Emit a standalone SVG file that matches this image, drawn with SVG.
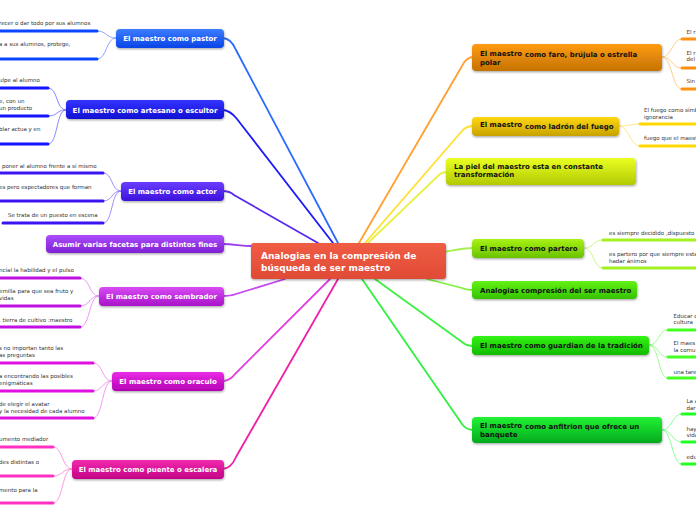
<svg xmlns="http://www.w3.org/2000/svg" width="696" height="520" viewBox="0 0 696 520">
<defs>
<filter id="sh" x="-10%" y="-20%" width="120%" height="160%"><feDropShadow dx="0.5" dy="1.2" stdDeviation="0.9" flood-color="#000" flood-opacity="0.35"/></filter>
<linearGradient id="gC" x1="0" y1="0" x2="0" y2="1"><stop offset="0" stop-color="#ef5c44"/><stop offset="1" stop-color="#e04b36"/></linearGradient>
<linearGradient id="g1" x1="0" y1="0" x2="0" y2="1"><stop offset="0" stop-color="#3b7dff"/><stop offset="1" stop-color="#0b44e6"/></linearGradient>
<linearGradient id="g2" x1="0" y1="0" x2="0" y2="1"><stop offset="0" stop-color="#3434ff"/><stop offset="1" stop-color="#1010d2"/></linearGradient>
<linearGradient id="g3" x1="0" y1="0" x2="0" y2="1"><stop offset="0" stop-color="#6a3cff"/><stop offset="1" stop-color="#3c12dc"/></linearGradient>
<linearGradient id="g4" x1="0" y1="0" x2="0" y2="1"><stop offset="0" stop-color="#ac4cfa"/><stop offset="1" stop-color="#7e22d4"/></linearGradient>
<linearGradient id="g5" x1="0" y1="0" x2="0" y2="1"><stop offset="0" stop-color="#d84cf4"/><stop offset="1" stop-color="#a812c8"/></linearGradient>
<linearGradient id="g6" x1="0" y1="0" x2="0" y2="1"><stop offset="0" stop-color="#ea2ae6"/><stop offset="1" stop-color="#b402b4"/></linearGradient>
<linearGradient id="g7" x1="0" y1="0" x2="0" y2="1"><stop offset="0" stop-color="#f22aae"/><stop offset="1" stop-color="#c20286"/></linearGradient>
<linearGradient id="r1" x1="0" y1="0" x2="0" y2="1"><stop offset="0" stop-color="#ff9c12"/><stop offset="1" stop-color="#c47202"/></linearGradient>
<linearGradient id="r2" x1="0" y1="0" x2="0" y2="1"><stop offset="0" stop-color="#ffd810"/><stop offset="1" stop-color="#c8a202"/></linearGradient>
<linearGradient id="r3" x1="0" y1="0" x2="0" y2="1"><stop offset="0" stop-color="#eaff22"/><stop offset="1" stop-color="#b2ca02"/></linearGradient>
<linearGradient id="r4" x1="0" y1="0" x2="0" y2="1"><stop offset="0" stop-color="#a8f214"/><stop offset="1" stop-color="#6ac202"/></linearGradient>
<linearGradient id="r5" x1="0" y1="0" x2="0" y2="1"><stop offset="0" stop-color="#64f214"/><stop offset="1" stop-color="#34c202"/></linearGradient>
<linearGradient id="r6" x1="0" y1="0" x2="0" y2="1"><stop offset="0" stop-color="#34f414"/><stop offset="1" stop-color="#12ba02"/></linearGradient>
<linearGradient id="r7" x1="0" y1="0" x2="0" y2="1"><stop offset="0" stop-color="#22f234"/><stop offset="1" stop-color="#02aa1e"/></linearGradient>
</defs>
<style>
.nt{font-family:"DejaVu Sans","Liberation Sans",sans-serif;font-weight:bold;font-size:7px}
.w{fill:#fff;text-anchor:middle}
.k{fill:#111}
.s{font-family:"DejaVu Sans","Liberation Sans",sans-serif;font-size:5.5px;fill:#333}
.mc{fill:none;stroke-width:1.8;stroke-linecap:round}
.sc{fill:none;stroke-width:0.8}
.ul{stroke-width:3;stroke-linecap:round}
</style>
<rect width="696" height="520" fill="#fff"/>

<g id="connectors">
<path class="mc" stroke="#2a6bff" d="M338,243 L236,50 Q231,38 222,38"/>
<path class="mc" stroke="#1c1cf5" d="M333,243 L237,119 Q230,110 222,110"/>
<path class="mc" stroke="#5a2af0" d="M318,243 L234,195 Q230,191 222,191"/>
<path class="mc" stroke="#9a3cf0" d="M252,246 C240,246 235,244 222,244"/>
<path class="mc" stroke="#c648f2" d="M285,279 L236,294 Q231,296 222,296"/>
<path class="mc" stroke="#e040e0" d="M330,279 L235,374 Q230,381 222,381"/>
<path class="mc" stroke="#f020a8" d="M338,279 L236,457 Q231,469 222,469"/>
<path class="mc" stroke="#ffa030" d="M359,243 L462,66 Q466,57 474,57"/>
<path class="mc" stroke="#ffe030" d="M365,243 L462,131 Q466,126 474,126"/>
<path class="mc" stroke="#e8f040" d="M368,243 L438,176 Q441,172 448,172"/>
<path class="mc" stroke="#a8f050" d="M445,252 C455,250 462,248 474,248"/>
<path class="mc" stroke="#80f040" d="M427,279 L462,288 Q466,290 474,290"/>
<path class="mc" stroke="#40f040" d="M375,279 L462,342 Q466,346 474,346"/>
<path class="mc" stroke="#30f040" d="M362,279 L462,424 Q466,430 474,430"/>

<g stroke="#7090ff" class="sc">
<path d="M116,38 C106,38 107,31 97,31"/><path d="M116,38 C106,38 107,59 97,59"/>
</g>
<g stroke="#6a6aff" class="sc">
<path d="M66,110 C56,110 58,88 48,88"/><path d="M66,110 C56,110 58,116 48,116"/><path d="M66,110 C56,110 58,144 48,144"/>
</g>
<g stroke="#8a70ff" class="sc">
<path d="M121,191 C111,191 113,173 103,173"/><path d="M121,191 C111,191 113,201 103,201"/><path d="M121,191 C111,191 113,223 103,223"/>
</g>
<g stroke="#e080f0" class="sc">
<path d="M99,296 C89,296 90,278 80,278"/><path d="M99,296 C89,296 90,306 80,306"/><path d="M99,296 C89,296 90,327 80,327"/>
</g>
<g stroke="#f080f0" class="sc">
<path d="M112,381 C102,381 103,363 93,363"/><path d="M112,381 C102,381 103,391 93,391"/><path d="M112,381 C102,381 103,418 93,418"/>
</g>
<g stroke="#ff80d0" class="sc">
<path d="M72,469 C62,469 63,447 53,447"/><path d="M72,469 C62,469 63,476 53,476"/><path d="M72,469 C62,469 63,503 53,503"/>
</g>
<g stroke="#ffc070" class="sc">
<path d="M662,57 C672,57 672,39 682,39"/><path d="M662,57 C672,57 672,68 682,68"/><path d="M662,57 C672,57 672,89 682,89"/>
</g>
<g stroke="#ffe070" class="sc">
<path d="M619,126 C629,126 630,124 640,124"/><path d="M619,126 C629,126 630,146 640,146"/>
</g>
<g stroke="#c0f070" class="sc">
<path d="M584,248 C594,248 593,240 603,240"/><path d="M584,248 C594,248 593,268 603,268"/>
</g>
<g stroke="#80ff70" class="sc">
<path d="M649,345 C659,345 658,330 668,330"/><path d="M649,345 C659,345 658,357 668,357"/><path d="M649,345 C659,345 658,378 668,378"/>
</g>
<g stroke="#70ff80" class="sc">
<path d="M662,430 C672,430 672,414 682,414"/><path d="M662,430 C672,430 672,442 682,442"/><path d="M662,430 C672,430 672,464 682,464"/>
</g>
</g>

<g id="center">
<rect x="251" y="243" width="195" height="36" rx="3" fill="url(#gC)" filter="url(#sh)"/>
<text x="261" y="259" font-family="DejaVu Sans, sans-serif" font-weight="bold" font-size="9" fill="#fff">Analogias en la compresión de</text>
<text x="261" y="270.5" font-family="DejaVu Sans, sans-serif" font-weight="bold" font-size="9" fill="#fff">búsqueda de ser maestro</text>
</g>

<g id="pastor">
<rect x="116" y="29" width="108" height="19" rx="4" fill="url(#g1)" filter="url(#sh)"/>
<text class="nt w" x="170" y="41">El maestro como pastor</text>
<line class="ul" stroke="#0a46ff" x1="-2" y1="31" x2="97" y2="31"/>
<line class="ul" stroke="#0a46ff" x1="-2" y1="59" x2="97" y2="59"/>
<text class="s" x="-1" y="25">recer o dar todo por sus alumnos</text>
<text class="s" x="-1" y="46">a a sus alumnos, protege,</text>
</g>

<g id="artesano">
<rect x="66" y="100" width="158" height="19" rx="4" fill="url(#g2)" filter="url(#sh)"/>
<text class="nt w" x="145" y="112.5">El maestro como artesano o escultor</text>
<line class="ul" stroke="#1414ff" x1="-2" y1="88" x2="48" y2="88"/>
<line class="ul" stroke="#1414ff" x1="-2" y1="116" x2="48" y2="116"/>
<line class="ul" stroke="#1414ff" x1="-2" y1="144" x2="48" y2="144"/>
<text class="s" x="-1" y="82">ulpe al alumno</text>
<text class="s" x="-1" y="103">e, con un</text>
<text class="s" x="-1" y="110">un producto</text>
<text class="s" x="-1" y="131">blar actua y en</text>
</g>

<g id="actor">
<rect x="121" y="182" width="103" height="19" rx="4" fill="url(#g3)" filter="url(#sh)"/>
<text class="nt w" x="172.5" y="194">El maestro como actor</text>
<line class="ul" stroke="#3c14f2" x1="-2" y1="173" x2="103" y2="173"/>
<line class="ul" stroke="#3c14f2" x1="-2" y1="201" x2="103" y2="201"/>
<line class="ul" stroke="#3c14f2" x1="3" y1="223" x2="103" y2="223"/>
<text class="s" x="2" y="167.5">poner al alumno frente a si mismo</text>
<text class="s" x="-1" y="189">es  pero espectadores que forman</text>
<text class="s" x="8" y="217">Se trata de un puesto en escena</text>
</g>

<g id="facetas">
<rect x="46" y="235" width="178" height="18" rx="4" fill="url(#g4)" filter="url(#sh)"/>
<text class="nt w" x="135" y="246.5">Asumir varias facetas para distintos fines</text>
</g>

<g id="sembrador">
<rect x="99" y="287" width="125" height="19" rx="4" fill="url(#g5)" filter="url(#sh)"/>
<text class="nt w" x="161.5" y="299">El maestro como sembrador</text>
<line class="ul" stroke="#c010e2" x1="-2" y1="278" x2="80" y2="278"/>
<line class="ul" stroke="#c010e2" x1="-2" y1="306" x2="80" y2="306"/>
<line class="ul" stroke="#c010e2" x1="-2" y1="327" x2="80" y2="327"/>
<text class="s" x="-1" y="272">ncial la habilidad y el pulso</text>
<text class="s" x="-1" y="293">emilla para que sea fruto y</text>
<text class="s" x="-1" y="299.5">vidas</text>
<text class="s" x="-1" y="322">.  tierra de cultivo :maestro</text>
</g>

<g id="oraculo">
<rect x="112" y="372" width="112" height="19" rx="4" fill="url(#g6)" filter="url(#sh)"/>
<text class="nt w" x="168" y="384">El maestro como oraculo</text>
<line class="ul" stroke="#e010e0" x1="-2" y1="363" x2="93" y2="363"/>
<line class="ul" stroke="#e010e0" x1="-2" y1="391" x2="93" y2="391"/>
<line class="ul" stroke="#e010e0" x1="-2" y1="418" x2="93" y2="418"/>
<text class="s" x="-1" y="350">s no importan tanto las</text>
<text class="s" x="-1" y="356.5">as preguntas</text>
<text class="s" x="-1" y="378">a encontrando las posibles</text>
<text class="s" x="-1" y="384.5">enigmáticas</text>
<text class="s" x="-1" y="406">de elegir el avatar</text>
<text class="s" x="-1" y="412.5">y la necesidad de cada alumno</text>
</g>

<g id="puente">
<rect x="72" y="460" width="152" height="19" rx="4" fill="url(#g7)" filter="url(#sh)"/>
<text class="nt w" x="148" y="472">El maestro como puente o escalera</text>
<line class="ul" stroke="#ff30c4" x1="-2" y1="447" x2="53" y2="447"/>
<line class="ul" stroke="#ff30c4" x1="-2" y1="476" x2="53" y2="476"/>
<line class="ul" stroke="#ff30c4" x1="-2" y1="503" x2="53" y2="503"/>
<text class="s" x="-1" y="441">umento mediador</text>
<text class="s" x="-1" y="463.5">des distintas o</text>
<text class="s" x="-1" y="492">mento para la</text>
</g>

<g id="faro">
<rect x="472" y="44" width="190" height="27" rx="4" fill="url(#r1)" filter="url(#sh)"/>
<text class="nt k" x="480" y="55.5">El maestro</text>
<text class="nt k" x="525" y="57">como faro, brújula  o estrella</text>
<text class="nt k" x="480" y="64.5">polar</text>
<line class="ul" stroke="#ff9010" x1="682" y1="39" x2="698" y2="39"/>
<line class="ul" stroke="#ff9010" x1="682" y1="68" x2="698" y2="68"/>
<line class="ul" stroke="#ff9010" x1="682" y1="89" x2="698" y2="89"/>
<text class="s" x="686.5" y="33.5">El r</text>
<text class="s" x="686.5" y="54.5">El r</text>
<text class="s" x="686.5" y="61">del</text>
<text class="s" x="686.5" y="83">Sin</text>
</g>

<g id="ladron">
<rect x="472" y="117" width="147" height="19" rx="4" fill="url(#r2)" filter="url(#sh)"/>
<text class="nt k" x="480" y="127">El maestro</text>
<text class="nt k" x="525" y="128.5">como ladrón del fuego</text>
<line class="ul" stroke="#ffd800" x1="640" y1="124" x2="698" y2="124"/>
<line class="ul" stroke="#ffd800" x1="640" y1="146" x2="698" y2="146"/>
<text class="s" x="644" y="112">El fuego como símb</text>
<text class="s" x="644" y="118.5">ignorancia</text>
<text class="s" x="644" y="139.5">fuego que el maestr</text>
</g>

<g id="piel">
<rect x="446" y="158" width="190" height="27" rx="4" fill="url(#r3)" filter="url(#sh)"/>
<text class="nt k" x="454" y="169">La piel del maestro esta en constante</text>
<text class="nt k" x="454" y="177">transformación</text>
</g>

<g id="partero">
<rect x="472" y="239" width="112" height="19" rx="4" fill="url(#r4)" filter="url(#sh)"/>
<text class="nt k" x="480" y="250.5">El maestro como partero</text>
<line class="ul" stroke="#a4f020" x1="603" y1="240" x2="698" y2="240"/>
<line class="ul" stroke="#a4f020" x1="603" y1="268" x2="698" y2="268"/>
<text class="s" x="609" y="234.5">es siempre decidido ,dispuesto</text>
<text class="s" x="609" y="256">es partero por que siempre esta</text>
<text class="s" x="609" y="262.5">hadar ánimos</text>
</g>

<g id="analogias">
<rect x="472" y="281" width="165" height="18" rx="4" fill="url(#r5)" filter="url(#sh)"/>
<text class="nt k" x="480" y="292.5">Analogias compresión del ser maestro</text>
</g>

<g id="guardian">
<rect x="472" y="336" width="177" height="19" rx="4" fill="url(#r6)" filter="url(#sh)"/>
<text class="nt k" x="480" y="348">El maestro como guardian de la tradición</text>
<line class="ul" stroke="#44ff22" x1="668" y1="330" x2="698" y2="330"/>
<line class="ul" stroke="#44ff22" x1="668" y1="357" x2="698" y2="357"/>
<line class="ul" stroke="#44ff22" x1="668" y1="378" x2="698" y2="378"/>
<text class="s" x="673.5" y="317.5">Educar c</text>
<text class="s" x="673.5" y="324">cultura</text>
<text class="s" x="673.5" y="345">El maes</text>
<text class="s" x="673.5" y="351.5">la comu</text>
<text class="s" x="673.5" y="373.5">una tare</text>
</g>

<g id="anfitrion">
<rect x="472" y="417" width="190" height="26" rx="4" fill="url(#r7)" filter="url(#sh)"/>
<text class="nt k" x="480" y="427.5">El maestro</text>
<text class="nt k" x="525" y="429">como anfitrion que ofrece un</text>
<text class="nt k" x="480" y="437">banquete</text>
<line class="ul" stroke="#22ff22" x1="682" y1="414" x2="698" y2="414"/>
<line class="ul" stroke="#22ff22" x1="682" y1="442" x2="698" y2="442"/>
<line class="ul" stroke="#22ff22" x1="682" y1="464" x2="698" y2="464"/>
<text class="s" x="686.5" y="403">La a</text>
<text class="s" x="686.5" y="409.5">dar</text>
<text class="s" x="686.5" y="430.5">hay</text>
<text class="s" x="686.5" y="437">vida</text>
<text class="s" x="686.5" y="458.5">edu</text>
</g>
</svg>
